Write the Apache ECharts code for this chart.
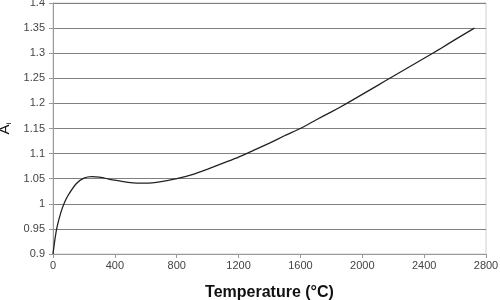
<!DOCTYPE html>
<html>
<head>
<meta charset="utf-8">
<script src="https://cdn.jsdelivr.net/npm/echarts@6/dist/echarts.min.js"></script>
<style>
  html, body { margin: 0; padding: 0; background: #fff; }
  #chart { width: 500px; height: 300px; }
</style>
</head>
<body>
<div id="chart"></div>
<script>
// temperature (°C) and A_i
const temps = [0, 12, 25, 50, 75, 100, 150, 200, 250, 300, 400, 500, 600, 700, 800, 900, 1000, 1100, 1200, 1300, 1400, 1500, 1600, 1700, 1800, 1900, 2000, 2100, 2200, 2300, 2400, 2500, 2600, 2725]
const aiValues = [0.9, 0.928, 0.952, 0.982, 1.003, 1.018, 1.04, 1.051, 1.054, 1.053, 1.047, 1.042, 1.041, 1.044, 1.05, 1.058, 1.069, 1.081, 1.093, 1.107, 1.121, 1.136, 1.15, 1.167, 1.183, 1.2, 1.218, 1.236, 1.254, 1.272, 1.29, 1.308, 1.327, 1.35]
const xTicks = [0, 400, 800, 1200, 1600, 2000, 2400, 2800]

const chart = echarts.init(document.getElementById('chart'))
const labelFont = { color: '#444', fontSize: 11, fontFamily: 'Liberation Sans, Arial, sans-serif' }

const option = {
  backgroundColor: '#fff',
  animation: false,
  grid: {
    left: 53,
    right: 14,
    top: 3,
    bottom: 46,
    outerBoundsMode: 'none',
    containLabel: false,
    show: true,
    borderColor: '#d0d0d0',
    borderWidth: 1
  },
  xAxis: {
    type: 'value',
    min: xTicks[0],
    max: xTicks[xTicks.length - 1],
    interval: 400,
    name: 'Temperature (°C)',
    nameLocation: 'middle',
    nameGap: 31,
    nameTextStyle: { color: '#111', fontSize: 16, fontWeight: 'bold', fontFamily: 'Liberation Sans, Arial, sans-serif' },
    axisLine: { lineStyle: { color: '#999' } },
    axisTick: { show: true, length: 4, lineStyle: { color: '#999' } },
    axisLabel: Object.assign({ margin: 6, formatter: v => String(v) }, labelFont),
    splitLine: { show: false }
  },
  yAxis: {
    type: 'value',
    min: 0.9,
    max: 1.4,
    interval: 0.05,
    name: '{a|A}{s|i}',
    nameLocation: 'middle',
    nameGap: 39,
    nameRotate: 90,
    nameTextStyle: {
      rich: {
        a: { fontSize: 15, color: '#111', fontFamily: 'Liberation Sans, Arial, sans-serif' },
        s: { fontSize: 8, color: '#111', fontFamily: 'Liberation Sans, Arial, sans-serif', padding: [8, 0, 0, 0] }
      }
    },
    axisLine: { show: true, lineStyle: { color: '#999' } },
    axisTick: { show: true, length: 4, lineStyle: { color: '#999' } },
    axisLabel: Object.assign({
      margin: 8,
      formatter: v => String(+v.toFixed(2))
    }, labelFont),
    splitLine: { show: true, lineStyle: { color: '#808080', width: 1 } }
  },
  series: [
    {
      type: 'line',
      data: temps.map((t, i) => [t, aiValues[i]]),
      smooth: 0.2,
      showSymbol: false,
      lineStyle: { color: '#222', width: 1.3 }
    }
  ]
}

chart.setOption(option)
window.addEventListener('resize', () => {
  chart.resize()
})
</script>
</body>
</html>
